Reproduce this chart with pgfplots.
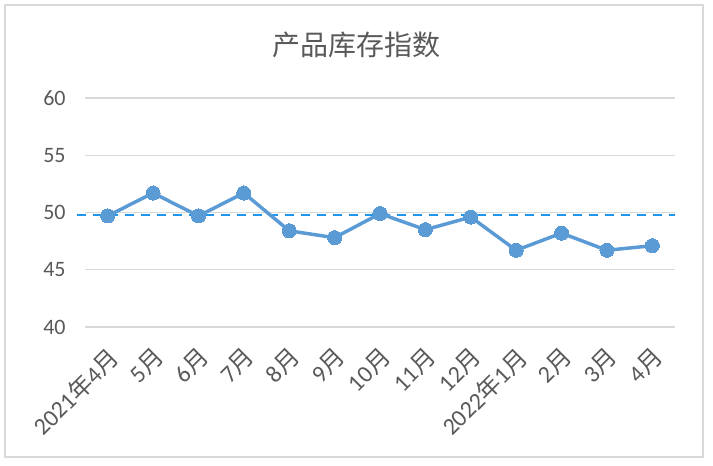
\documentclass[border=0pt]{standalone}
\usepackage{pgfplots}
\pgfplotsset{compat=1.18}
\usepackage{fontspec}
\setmainfont{Carlito}
\newfontfamily\cjk{Noto Sans CJK SC}
\newcommand\yue{{\cjk 月}}
\newcommand\nian{{\cjk 年}}

\definecolor{linecol}{RGB}{91,155,213}
\definecolor{dashcol}{RGB}{30,150,240}
\definecolor{gridcol}{RGB}{217,217,217}
\definecolor{txtcol}{RGB}{89,89,89}

\begin{document}
\begin{tikzpicture}
  % page is 713 x 466 px, 1 px = 0.75pt
  \path[use as bounding box] (0,0) rectangle (534.75pt,349.5pt);
  \draw[gridcol, line width=1.5pt] (3.75pt,6.75pt) rectangle (527.25pt,345.75pt);

  \begin{axis}[
      at={(63.75pt,104.25pt)}, anchor=south west,
      scale only axis,
      width=442.5pt, height=171.75pt,
      xmin=-0.5, xmax=12.5,
      ymin=40, ymax=60,
      ytick={40,45,50,55,60},
      xtick={0,...,12},
      xticklabels={2021\nian4\yue, 5\yue, 6\yue, 7\yue, 8\yue, 9\yue, 10\yue,
                   11\yue, 12\yue, 2022\nian1\yue, 2\yue, 3\yue, 4\yue},
      axis line style={draw=none},
      major tick length=0pt,
      ymajorgrids,
      grid style={gridcol, line width=1pt},
      tick label style={font=\fontsize{16.5}{18}\selectfont, text=txtcol},
      /pgf/number format/assume math mode=true,
      yticklabel style={anchor=east, xshift=-11pt},
      xticklabel style={font=\fontsize{18}{20}\selectfont,
                        xshift=-1pt, yshift=-9pt, rotate=45, anchor=north east},
      clip=false,
    ]
    % reference line
    \addplot[dashcol, line width=1.9pt, dash pattern=on 6.75pt off 5.25pt]
      coordinates {(-0.68,49.8) (12.5,49.8)};
    % product inventory index
    \addplot[linecol, line width=2.6pt, mark=*, mark size=5.3pt,
             mark options={fill=linecol, draw=linecol, line width=0pt}]
      table {
      x y
      0  49.7
      1  51.7
      2  49.7
      3  51.7
      4  48.4
      5  47.8
      6  49.9
      7  48.5
      8  49.6
      9  46.7
      10 48.2
      11 46.7
      12 47.1
      };
  \end{axis}

  \node[text=txtcol, font=\cjk\fontsize{21}{24}\selectfont] at (267.4pt,315.75pt) {产品库存指数};
\end{tikzpicture}
\end{document}
